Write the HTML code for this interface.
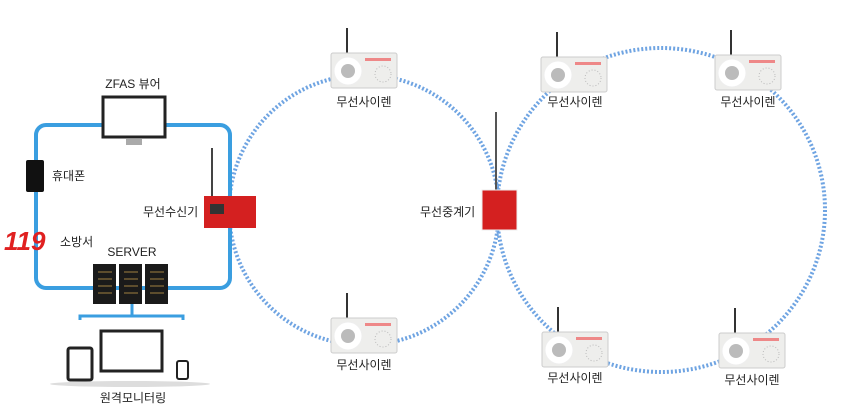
<!DOCTYPE html>
<html><head><meta charset="utf-8"><style>
html,body{margin:0;padding:0;background:#fff;}
svg text{font-family:"Liberation Sans","Noto Sans CJK KR",sans-serif;font-size:12px;fill:#222;}
</style></head><body>
<svg width="844" height="414" viewBox="0 0 844 414" xmlns="http://www.w3.org/2000/svg">
<defs>
<g id="siren">
 <line x1="16" y1="-25" x2="16" y2="2" stroke="#333" stroke-width="2"/>
 <rect x="0" y="0" width="66" height="35" rx="2" fill="#eeeeec" stroke="#ccc"/>
 <circle cx="17" cy="18" r="14" fill="#fff" stroke="#eee"/>
 <circle cx="17" cy="18" r="7" fill="#bbb"/>
 <rect x="34" y="5" width="26" height="3" fill="#e88"/>
 <circle cx="52" cy="21" r="8" fill="none" stroke="#bbb" stroke-dasharray="1 2"/>
</g>
</defs>
<circle cx="364" cy="210" r="135" fill="none" stroke="#3f86d8" stroke-width="4" stroke-dasharray="2 2" opacity="0.75"/>
<ellipse cx="661" cy="210" rx="164" ry="162" fill="none" stroke="#3f86d8" stroke-width="4" stroke-dasharray="2 2" opacity="0.75"/>
<rect x="36" y="125" width="194" height="163" rx="10" fill="none" stroke="#3a9ee0" stroke-width="4"/>
<path d="M132 300 V316 M80 320 V316 H183 V320" stroke="#3a9ee0" stroke-width="3" fill="none"/>
<rect x="103" y="97" width="62" height="40" fill="#fff" stroke="#222" stroke-width="3"/>
<rect x="126" y="139" width="16" height="6" fill="#aaa"/>
<text x="133" y="88" text-anchor="middle">ZFAS 뷰어</text>
<rect x="26" y="160" width="18" height="32" rx="2" fill="#111"/>
<text x="52" y="180">휴대폰</text>
<text x="4" y="250" style="font-size:26px;font-weight:bold;font-style:italic;fill:#e02020">119</text>
<text x="60" y="246">소방서</text>
<text x="132" y="256" text-anchor="middle">SERVER</text>
<g fill="#1a1a1a"><rect x="93" y="264" width="23" height="40"/><rect x="119" y="264" width="23" height="40"/><rect x="145" y="264" width="23" height="40"/></g>
<g stroke="#a08040" stroke-width="1"><path d="M98 272h14M98 279h14M98 286h14M98 293h14M124 272h14M124 279h14M124 286h14M124 293h14M150 272h14M150 279h14M150 286h14M150 293h14"/></g>
<rect x="101" y="331" width="61" height="40" fill="#fff" stroke="#222" stroke-width="3"/>
<rect x="68" y="348" width="24" height="32" rx="2" fill="#fff" stroke="#222" stroke-width="3"/>
<rect x="177" y="361" width="11" height="18" rx="2" fill="#fff" stroke="#222" stroke-width="2"/>
<ellipse cx="130" cy="384" rx="80" ry="3" fill="#ddd"/>
<text x="133" y="402" text-anchor="middle">원격모니터링</text>
<line x1="212" y1="148" x2="212" y2="198" stroke="#444" stroke-width="2"/>
<rect x="204" y="196" width="52" height="32" fill="#d42020"/>
<rect x="210" y="204" width="14" height="10" fill="#333"/>
<text x="143" y="216">무선수신기</text>
<line x1="496" y1="112" x2="496" y2="190" stroke="#555" stroke-width="2"/>
<rect x="482" y="190" width="35" height="40" fill="#d42020" stroke="#eee"/>
<text x="420" y="216">무선중계기</text>
<use href="#siren" x="331" y="53"/><text x="364" y="106" text-anchor="middle">무선사이렌</text>
<use href="#siren" x="541" y="57"/><text x="575" y="106" text-anchor="middle">무선사이렌</text>
<use href="#siren" x="715" y="55"/><text x="748" y="106" text-anchor="middle">무선사이렌</text>
<use href="#siren" x="331" y="318"/><text x="364" y="369" text-anchor="middle">무선사이렌</text>
<use href="#siren" x="542" y="332"/><text x="575" y="382" text-anchor="middle">무선사이렌</text>
<use href="#siren" x="719" y="333"/><text x="752" y="384" text-anchor="middle">무선사이렌</text>
</svg>
</body></html>
